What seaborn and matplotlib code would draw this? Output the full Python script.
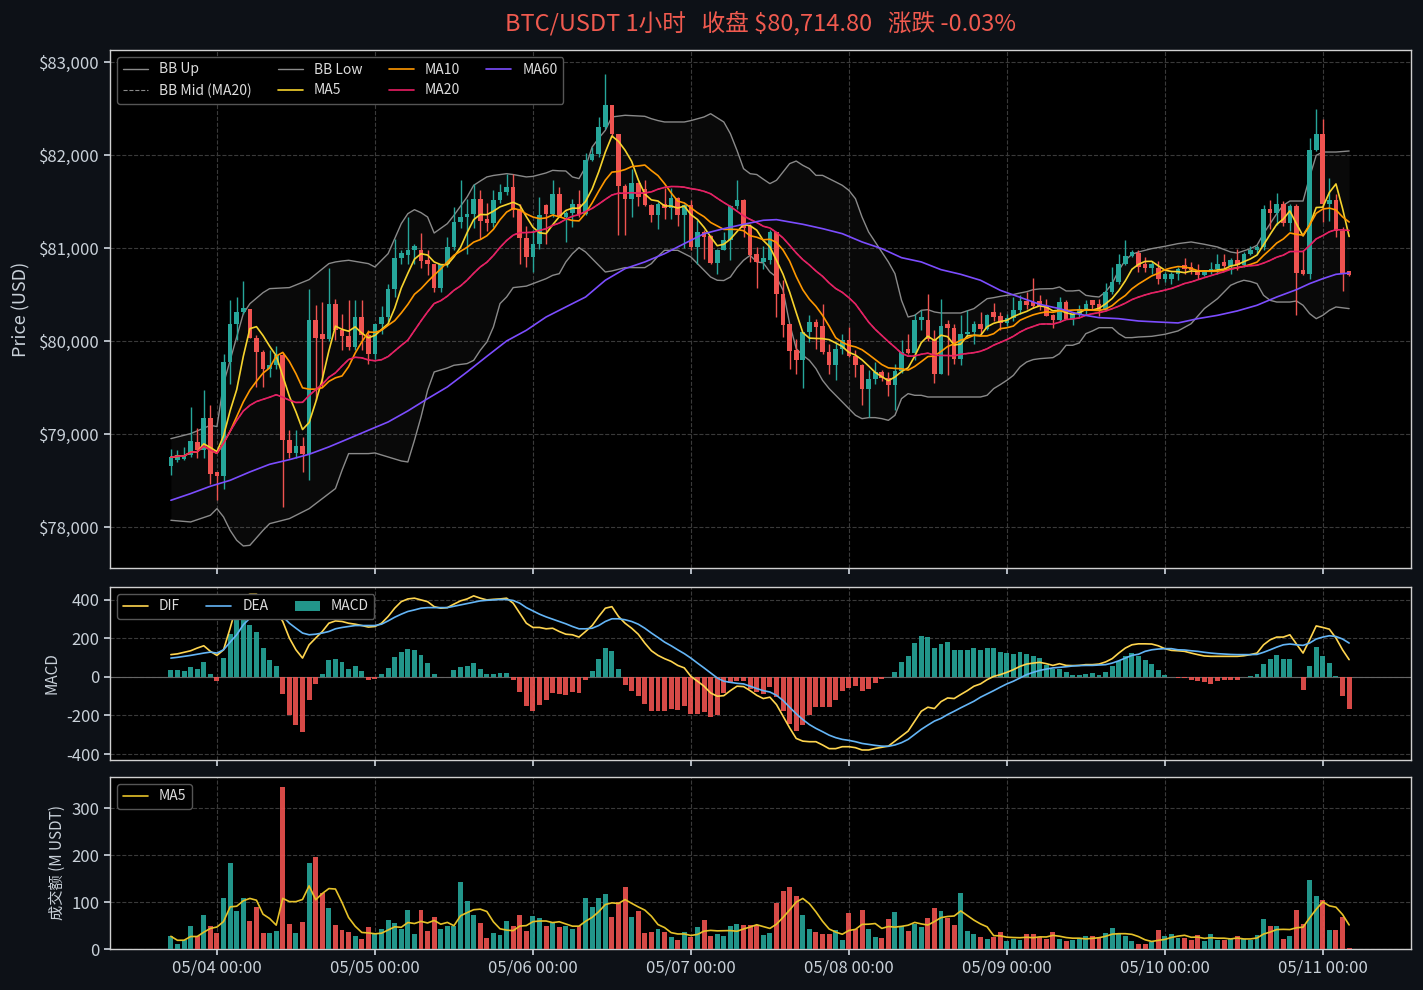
import numpy as np
import pandas as pd
import matplotlib
matplotlib.use('Agg')
import matplotlib.pyplot as plt
import seaborn as sns

# hourly candles, 05/03 17:00 -> 05/11 04:00
start = '2025-05-03 17:00'
n_candles = 180

opens = [78660, 78720, 78730, 78770, 78910, 78825, 79175, 78590, 78545, 79775,
         80180, 80312, 80340, 80036, 79882, 79703, 79740, 79846, 78940, 78796,
         78868, 78790, 80222, 80070, 80025, 80394, 80122, 80050, 79936, 80258,
         80061, 79864, 80180, 80258, 80563, 80896, 80920, 80975, 80982, 80875,
         80825, 80574, 80832, 81011, 81280, 81333, 81369, 81530, 81315, 81269,
         81520, 81602, 81656, 81412, 81111, 80903, 81040, 81459, 81369, 81584,
         81333, 81380, 81477, 81362, 81950, 82007, 82301, 82534, 82229, 81670,
         81530, 81699, 81638, 81459, 81351, 81477, 81434, 81541, 81351, 81459,
         81011, 81172, 81126, 80839, 80982, 81090, 81448, 81520, 81233, 80932,
         80850, 80868, 81172, 80509, 80179, 79900, 79792, 80097, 80204, 80158,
         79882, 79739, 79918, 80014, 79835, 79739, 79481, 79588, 79667, 79606,
         79524, 79678, 79918, 79871, 80222, 80230, 80025, 79649, 80186, 80143,
         79810, 80072, 80097, 80186, 80133, 80312, 80265, 80194, 80251, 80330,
         80430, 80420, 80430, 80373, 80276, 80222, 80420, 80240, 80287, 80348,
         80437, 80394, 80337, 80527, 80635, 80825, 80911, 80946, 80832, 80789,
         80789, 80670, 80670, 80724, 80814, 80796, 80760, 80706, 80742, 80778,
         80850, 80803, 80875, 80814, 80939, 80982, 81011, 81423, 81376, 81477,
         81269, 81448, 80767, 80724, 82050, 82222, 81470, 81513, 81183, 80753]
highs = [78840, 78825, 78860, 79285, 79060, 79470, 79310, 78590, 79864, 80445,
         80473, 80650, 80345, 80060, 79900, 79900, 79943, 79870, 79040, 79040,
         78970, 80563, 80384, 80420, 80789, 80455, 80290, 80437, 80437, 80437,
         80115, 80186, 80380, 80617, 81100, 80982, 81333, 81040, 81162, 80982,
         80832, 80832, 81120, 81441, 81728, 81530, 81692, 81627, 81480, 81620,
         81692, 81800, 81800, 81477, 81240, 81190, 81549, 81477, 81728, 81656,
         81400, 81530, 81628, 82022, 82086, 82409, 82867, 82534, 82229, 81685,
         81853, 81710, 81728, 81470, 81495, 81649, 81649, 81548, 81477, 81513,
         81298, 81190, 81136, 80993, 81172, 81459, 81728, 81530, 81262, 81011,
         81022, 81197, 81172, 80653, 80186, 80018, 80097, 80283, 80240, 80394,
         79971, 79990, 80079, 80151, 79900, 79757, 79685, 79775, 79685, 79667,
         79750, 80007, 80079, 80294, 80330, 80509, 80115, 80455, 80222, 80186,
         80276, 80330, 80210, 80312, 80294, 80410, 80312, 80287, 80473, 80491,
         80527, 80681, 80491, 80455, 80294, 80473, 80437, 80312, 80384, 80437,
         80445, 80455, 80624, 80796, 80939, 81090, 80975, 80975, 80900, 80860,
         80860, 80742, 80742, 80796, 80896, 80850, 80832, 80760, 80850, 80939,
         80932, 80896, 80993, 80957, 81022, 81029, 81459, 81513, 81592, 81506,
         81470, 81477, 80982, 82186, 82498, 82391, 81756, 81577, 81226, 80753]
lows = [78560, 78700, 78720, 78750, 78740, 78740, 78466, 78287, 78413, 79540,
        80007, 80290, 80030, 79505, 79505, 79613, 79700, 78215, 78740, 78740,
        78592, 78502, 79362, 79505, 80000, 80007, 79900, 79900, 79900, 79900,
        79756, 79810, 80079, 80200, 80470, 80830, 80830, 80830, 80780, 80710,
        80530, 80530, 80796, 80975, 81220, 80939, 81220, 81100, 81180, 81226,
        81480, 81570, 81333, 80832, 80796, 80742, 80990, 81047, 81333, 81333,
        81065, 81226, 81333, 81351, 81940, 81975, 82280, 82190, 81136, 81136,
        81333, 81448, 81448, 81280, 81208, 81315, 81315, 81240, 81004, 80975,
        80832, 80886, 80832, 80724, 80975, 80868, 81420, 81118, 80850, 80574,
        80778, 80832, 80258, 80043, 79703, 79649, 79498, 79990, 79918, 79864,
        79642, 79577, 79864, 79828, 79613, 79308, 79183, 79541, 79570, 79405,
        79255, 79660, 79864, 79793, 80115, 80000, 79549, 79649, 79631, 79756,
        79738, 80043, 79964, 80079, 80115, 80220, 80115, 80165, 80220, 80290,
        80348, 80358, 80337, 80265, 80143, 80215, 80240, 80176, 80255, 80283,
        80348, 80265, 80330, 80509, 80617, 80814, 80900, 80745, 80742, 80724,
        80617, 80634, 80610, 80653, 80724, 80717, 80670, 80699, 80724, 80724,
        80790, 80724, 80760, 80796, 80920, 80932, 80975, 81208, 81251, 81233,
        81180, 80276, 80706, 80670, 82043, 81280, 81290, 81115, 80538, 80700]
closes = [78750, 78770, 78770, 78925, 78830, 79175, 78575, 78545, 79775, 80180,
          80312, 80360, 80036, 79882, 79703, 79740, 79846, 78940, 78796, 78868,
          78790, 80222, 80036, 80025, 80394, 80122, 80050, 79936, 80258, 80061,
          79864, 80180, 80258, 80563, 80896, 80946, 80975, 81018, 80857, 80825,
          80574, 80832, 81011, 81280, 81333, 81369, 81530, 81290, 81269, 81520,
          81602, 81656, 81412, 81111, 80903, 81040, 81351, 81369, 81584, 81333,
          81380, 81477, 81362, 81950, 82007, 82301, 82534, 82229, 81663, 81530,
          81699, 81548, 81459, 81351, 81470, 81434, 81541, 81351, 81459, 81011,
          81172, 81118, 80839, 80982, 81090, 81448, 81520, 81219, 80921, 80850,
          80896, 81172, 80502, 80169, 79893, 79792, 80097, 80204, 80151, 79882,
          79739, 79918, 80014, 79835, 79739, 79481, 79588, 79667, 79606, 79524,
          79678, 79882, 79871, 80222, 80258, 80025, 79649, 80158, 80143, 79810,
          80072, 80097, 80186, 80133, 80276, 80258, 80194, 80251, 80330, 80430,
          80384, 80373, 80373, 80265, 80222, 80420, 80240, 80287, 80348, 80402,
          80384, 80337, 80527, 80635, 80825, 80911, 80957, 80796, 80789, 80832,
          80670, 80724, 80724, 80778, 80778, 80760, 80706, 80742, 80778, 80832,
          80803, 80875, 80814, 80939, 80982, 81011, 81423, 81376, 81477, 81269,
          81448, 80731, 80724, 82050, 82222, 81470, 81520, 81183, 80731, 80714.8]

# turnover, M USDT
volumes = [27, 10, 19, 50, 27, 73, 50, 34, 108, 183, 80, 108, 59, 89, 34, 34, 38, 344, 54, 34,
           57, 183, 196, 120, 87, 52, 40, 36, 27, 21, 47, 31, 42, 61, 55, 42, 82, 31, 84, 38,
           69, 42, 50, 49, 143, 103, 73, 56, 24, 33, 29, 59, 50, 73, 38, 71, 66, 50, 56, 47,
           48, 42, 50, 108, 89, 108, 118, 68, 101, 131, 68, 80, 34, 36, 42, 36, 26, 20, 36, 26,
           47, 61, 28, 31, 28, 48, 54, 52, 52, 52, 29, 34, 97, 124, 131, 113, 73, 42, 36, 31,
           31, 40, 19, 76, 43, 84, 42, 26, 24, 63, 78, 50, 38, 54, 47, 66, 87, 80, 66, 52,
           120, 38, 31, 26, 21, 26, 36, 17, 22, 19, 31, 31, 26, 21, 36, 22, 17, 19, 21, 28,
           28, 24, 34, 44, 33, 28, 17, 10, 10, 15, 40, 27, 31, 24, 24, 19, 29, 17, 31, 19,
           19, 21, 27, 21, 19, 29, 63, 48, 48, 21, 27, 82, 54, 147, 113, 105, 40, 40, 69, 2]

dif = [116, 120, 128, 136, 150, 162, 133, 112, 141, 253, 374, 417, 429, 429, 412, 374, 340, 288, 202, 141,
       98, 167, 202, 236, 279, 291, 288, 279, 274, 267, 259, 262, 279, 314, 357, 391, 405, 409, 400, 391,
       365, 357, 360, 378, 395, 405, 421, 409, 400, 403, 405, 409, 383, 331, 279, 257, 257, 250, 253, 236,
       222, 219, 207, 236, 267, 314, 357, 365, 314, 279, 253, 222, 176, 136, 112, 95, 81, 60, 47, 3,
       -22, -48, -83, -100, -97, -71, -48, -50, -71, -95, -112, -105, -143, -203, -264, -319, -333, -336, -336, -353,
       -372, -372, -362, -362, -367, -379, -379, -371, -365, -359, -333, -307, -281, -229, -178, -157, -164, -128, -109, -112,
       -91, -71, -48, -36, -14, 3, 12, 24, 38, 55, 67, 72, 76, 69, 60, 69, 60, 59, 60, 64,
       64, 67, 78, 95, 124, 150, 167, 172, 172, 171, 162, 147, 138, 136, 133, 124, 116, 109, 107, 107,
       107, 107, 107, 110, 116, 124, 167, 193, 207, 207, 219, 171, 124, 193, 265, 257, 248, 202, 141, 90]
dea = [98, 102, 107, 112, 118, 124, 129, 124, 141, 181, 219, 271, 305, 326, 340, 348, 343, 314, 279, 253,
       228, 219, 222, 228, 236, 250, 257, 262, 267, 267, 267, 267, 274, 291, 310, 326, 340, 348, 357, 360,
       360, 360, 360, 367, 374, 381, 388, 395, 398, 400, 402, 402, 397, 383, 360, 343, 326, 312, 300, 288,
       276, 262, 250, 250, 253, 267, 288, 302, 302, 297, 288, 274, 253, 228, 205, 181, 162, 141, 121, 98,
       72, 47, 21, -5, -22, -28, -33, -36, -48, -60, -71, -78, -95, -122, -157, -191, -221, -247, -267, -284,
       -302, -315, -324, -329, -336, -345, -350, -355, -359, -360, -353, -341, -324, -298, -272, -250, -229, -215, -195, -178,
       -160, -143, -126, -105, -88, -71, -53, -36, -22, -5, 12, 24, 34, 41, 47, 50, 53, 57, 59, 60,
       60, 62, 64, 72, 84, 98, 112, 118, 133, 141, 145, 147, 147, 141, 140, 136, 133, 128, 124, 121,
       119, 117, 116, 116, 116, 117, 128, 141, 155, 167, 171, 167, 164, 176, 197, 207, 214, 210, 197, 176]
macd_hist = [38, 38, 33, 50, 43, 79, 17, -22, 100, 222, 305, 336, 271, 234, 150, 90, 59, -86, -195, -250,
             -286, -117, -34, 16, 90, 95, 78, 43, 55, 33, -14, -9, 17, 48, 105, 131, 147, 141, 112, 74,
             14, -2, -2, 38, 53, 59, 74, 43, 14, 17, 22, 22, -14, -79, -152, -178, -143, -122, -84, -88,
             -95, -79, -84, -17, 33, 95, 152, 136, 43, -40, -71, -100, -141, -178, -178, -178, -164, -169, -152, -190,
             -190, -183, -209, -195, -83, -31, -22, -19, -60, -78, -91, -53, -105, -178, -243, -281, -250, -198, -157, -157,
             -157, -121, -74, -57, -48, -71, -60, -33, -12, -2, 26, 78, 110, 178, 214, 209, 152, 172, 183, 141,
             141, 141, 152, 141, 152, 152, 131, 126, 121, 131, 121, 110, 100, 64, 43, 43, 26, 12, 12, 17,
             22, 12, 28, 55, 81, 110, 126, 110, 90, 69, 38, 12, -2, -3, -7, -14, -22, -28, -34, -22,
             -17, -14, -14, -2, 7, 17, 69, 95, 116, 95, 95, 0, -66, 59, 157, 110, 74, 7, -97, -164]

# MA60 and Bollinger band at these candles
ma60_idx = [0, 3, 6, 9, 12, 15, 18, 21, 24, 27, 30, 33, 36, 39, 42, 45, 48, 51, 54, 57, 60, 63, 66,
            69, 72, 75, 78, 81, 84, 87, 90, 92, 94, 96, 99, 102, 105, 108, 111, 114, 117, 120, 123,
            126, 129, 132, 135, 138, 141, 144, 147, 150, 153, 156, 159, 162, 165, 168, 171, 173, 175, 177, 179]
ma60 = [78287, 78359, 78438, 78502, 78592, 78674, 78724, 78782, 78861, 78950, 79040, 79129, 79248,
        79380, 79506, 79667, 79835, 80000, 80115, 80258, 80366, 80473, 80653, 80778, 80850, 80939,
        81047, 81154, 81208, 81255, 81298, 81305, 81280, 81255, 81208, 81154, 81065, 80993, 80896,
        80850, 80767, 80717, 80653, 80545, 80470, 80394, 80348, 80287, 80251, 80240, 80215, 80204,
        80194, 80240, 80276, 80323, 80384, 80473, 80552, 80617, 80670, 80717, 80731]

bb_idx = [0, 3, 6, 7, 8, 9, 10, 11, 12, 14, 15, 18, 21, 24, 25, 26, 27, 30, 31, 33, 35, 36, 37, 38,
          39, 40, 42, 43, 45, 46, 47, 48, 49, 50, 51, 52, 54, 55, 57, 58, 59, 60, 61, 62, 63, 64, 65,
          66, 67, 69, 72, 73, 74, 75, 77, 78, 79, 80, 81, 82, 83, 84, 85, 86, 87, 88, 89, 90, 91, 92,
          93, 94, 95, 96, 97, 98, 99, 100, 101, 102, 103, 104, 105, 106, 107, 108, 109, 110, 111, 112,
          113, 114, 115, 116, 117, 120, 122, 123, 124, 125, 126, 127, 128, 129, 130, 131, 132, 134,
          135, 136, 137, 138, 139, 140, 141, 142, 143, 144, 145, 146, 147, 149, 151, 153, 155, 157,
          159, 161, 162, 163, 164, 165, 166, 167, 168, 169, 170, 171, 172, 173, 174, 175, 176, 177, 179]
bb_up = [78950, 79004, 79093, 79080, 79541, 79792, 80043, 80294, 80401, 80520, 80563, 80574, 80660,
         80832, 80850, 80860, 80868, 80832, 80796, 80939, 81262, 81369, 81412, 81380, 81333, 81161,
         81262, 81351, 81548, 81674, 81720, 81764, 81780, 81790, 81799, 81790, 81764, 81770, 81807,
         81835, 81830, 81828, 81764, 81746, 81871, 82086, 82180, 82265, 82409, 82427, 82416, 82390,
         82370, 82355, 82355, 82355, 82370, 82390, 82409, 82444, 82400, 82355, 82229, 82050, 81853,
         81799, 81790, 81740, 81692, 81728, 81817, 81907, 81935, 81889, 81853, 81781, 81781, 81746,
         81710, 81674, 81620, 81530, 81333, 81172, 81065, 80957, 80850, 80724, 80437, 80258, 80276,
         80330, 80337, 80312, 80301, 80301, 80348, 80402, 80455, 80466, 80480, 80491, 80500, 80516,
         80530, 80552, 80560, 80563, 80581, 80538, 80538, 80545, 80491, 80480, 80473, 80527, 80617,
         80760, 80868, 80932, 80957, 80993, 81018, 81047, 81065, 81040, 81011, 80957, 80946, 80970,
         80993, 81029, 81154, 81262, 81369, 81459, 81505, 81505, 81505, 81764, 81996, 82032, 82032,
         82032, 82043]
bb_low = [78072, 78054, 78126, 78197, 78108, 77964, 77857, 77796, 77803, 77964, 78036, 78090, 78197,
          78359, 78413, 78610, 78789, 78789, 78796, 78753, 78710, 78699, 78932, 79183, 79470, 79667,
          79710, 79739, 79757, 79792, 79900, 79989, 80151, 80402, 80473, 80574, 80590, 80617, 80670,
          80706, 80724, 80850, 80939, 81004, 80957, 80885, 80814, 80742, 80753, 80789, 80789, 80832,
          80911, 80975, 80975, 80939, 80903, 80832, 80760, 80688, 80653, 80650, 80688, 80789, 80868,
          80921, 80850, 80840, 80742, 80688, 80545, 80186, 79918, 79846, 79792, 79703, 79577, 79488,
          79416, 79344, 79273, 79201, 79165, 79176, 79176, 79165, 79147, 79201, 79380, 79434, 79416,
          79416, 79398, 79398, 79398, 79398, 79398, 79398, 79416, 79488, 79531, 79577, 79631, 79721,
          79774, 79800, 79810, 79821, 79864, 79954, 79954, 79979, 80079, 80108, 80143, 80143, 80143,
          80079, 80036, 80036, 80043, 80050, 80072, 80108, 80186, 80348, 80455, 80599, 80630, 80653,
          80640, 80617, 80491, 80437, 80419, 80419, 80419, 80430, 80384, 80294, 80240, 80276, 80330,
          80366, 80348]

UP = '#26a69a'
DOWN = '#ef5350'
BG = '#0d1117'
TXT = '#c9d1d9'
GRID = '#3a3a3a'

df = pd.DataFrame({'open': opens, 'high': highs, 'low': lows, 'close': closes, 'vol': volumes})
df['x'] = np.arange(len(df))
times = pd.date_range(start, periods=n_candles, freq='h')

# moving averages from the closes
for w in (5, 10, 20):
    df['ma%d' % w] = df['close'].rolling(w, min_periods=1).mean()
df['vol_ma5'] = df['vol'].rolling(5, min_periods=1).mean()
up = df['close'] >= df['open']
col = np.where(up, UP, DOWN)

sns.set_theme(style='dark')
plt.rcParams['font.family'] = ['Noto Sans CJK SC', 'DejaVu Sans']
plt.rcParams['axes.unicode_minus'] = False

fig = plt.figure(figsize=(14.23, 9.9), dpi=100, facecolor=BG)
L, W = 110 / 1423, 1301 / 1423
ax1 = fig.add_axes([L, 1 - 568 / 990, W, 518 / 990])
ax2 = fig.add_axes([L, 1 - 760 / 990, W, 173 / 990], sharex=ax1)
ax3 = fig.add_axes([L, 1 - 949 / 990, W, 172 / 990], sharex=ax1)

for ax in (ax1, ax2, ax3):
    ax.set_facecolor('black')
    ax.grid(True, color=GRID, linestyle='--', linewidth=0.8)
    for s in ax.spines.values():
        s.set_color('#d0d0d0')
        s.set_linewidth(1)
    ax.tick_params(colors=TXT, labelsize=12, length=4, bottom=True, left=True)

leg_kw = dict(loc='upper left', fontsize=10, facecolor='black', edgecolor='#555555',
              labelcolor='#dddddd', framealpha=1, columnspacing=1.9, handlelength=1.8,
              handletextpad=0.8)

# price panel
ax1.fill_between(bb_idx, bb_low, bb_up, color='#9e9e9e', alpha=0.06, linewidth=0)
sns.lineplot(x=bb_idx, y=bb_up, ax=ax1, color='#8a8a8a', lw=1, label='BB Up')
sns.lineplot(x=df['x'], y=df['ma20'], ax=ax1, color='#8a8a8a', lw=0.8, ls='--', label='BB Mid (MA20)')
sns.lineplot(x=bb_idx, y=bb_low, ax=ax1, color='#8a8a8a', lw=1, label='BB Low')

ax1.vlines(df['x'], df['low'], df['high'], colors=col, lw=1, zorder=3)
body_lo = np.minimum(df['open'], df['close'])
body_h = np.maximum(np.abs(df['close'] - df['open']), 8)
ax1.bar(df['x'], body_h, bottom=body_lo, width=0.7, color=col, edgecolor='none', linewidth=0, zorder=4)

sns.lineplot(x=df['x'], y=df['ma5'], ax=ax1, color='#f6d32d', lw=1.2, label='MA5', zorder=5)
sns.lineplot(x=df['x'], y=df['ma10'], ax=ax1, color='#ff9800', lw=1.2, label='MA10', zorder=5)
sns.lineplot(x=df['x'], y=df['ma20'], ax=ax1, color='#e91e63', lw=1.2, label='MA20', zorder=5)
sns.lineplot(x=ma60_idx, y=ma60, ax=ax1, color='#7c4dff', lw=1.2, label='MA60', zorder=5)

ax1.set_ylim(77559, 83129)
ax1.set_yticks([78000, 79000, 80000, 81000, 82000, 83000])
ax1.yaxis.set_major_formatter(matplotlib.ticker.FuncFormatter(lambda v, p: '${:,.0f}'.format(v)))
ax1.set_ylabel('Price (USD)', color=TXT, fontsize=13, labelpad=6)
ax1.legend(ncol=4, **leg_kw)
ax1.set_title('BTC/USDT 1小时   收盘 $80,714.80   涨跌 -0.03%', color='#f05a4f', fontsize=17, pad=14)

# MACD panel
mcol = np.where(np.array(macd_hist) >= 0, UP, DOWN)
ax2.bar(df['x'], macd_hist, width=0.75, color=mcol, alpha=0.9, edgecolor='none', linewidth=0,
        label='MACD', zorder=3)
sns.lineplot(x=df['x'], y=dif, ax=ax2, color='#ffd54f', lw=1.2, label='DIF', zorder=4)
sns.lineplot(x=df['x'], y=dea, ax=ax2, color='#64b5f6', lw=1.2, label='DEA', zorder=4)
ax2.axhline(0, color='#666666', lw=0.8, zorder=2)
ax2.set_ylim(-431, 467)
ax2.set_yticks([-400, -200, 0, 200, 400])
ax2.set_ylabel('MACD', color=TXT, fontsize=11)
h, lab = ax2.get_legend_handles_labels()
order = [lab.index('DIF'), lab.index('DEA'), lab.index('MACD')]
ax2.legend([h[k] for k in order], [lab[k] for k in order], ncol=3, **leg_kw)

# volume panel
ax3.bar(df['x'], df['vol'], width=0.75, color=col, alpha=0.9, edgecolor='none', linewidth=0, zorder=3)
sns.lineplot(x=df['x'], y=df['vol_ma5'], ax=ax3, color='#e6c229', lw=1.2, label='MA5', zorder=4)
ax3.set_ylim(0, 366)
ax3.set_yticks([0, 100, 200, 300])
ax3.set_ylabel('成交额 (M USDT)', color=TXT, fontsize=11)
ax3.legend(**leg_kw)

tick_pos = [i for i, t in enumerate(times) if t.hour == 0]
ax3.set_xticks(tick_pos)
ax3.set_xticklabels([times[i].strftime('%m/%d %H:%M') for i in tick_pos])
ax3.set_xlim(-9.25, 188.4)
for ax in (ax1, ax2):
    ax.tick_params(labelbottom=False)
for ax in (ax1, ax2, ax3):
    ax.set_xlabel('')

fig.savefig('out.png', dpi=100, facecolor=BG)
